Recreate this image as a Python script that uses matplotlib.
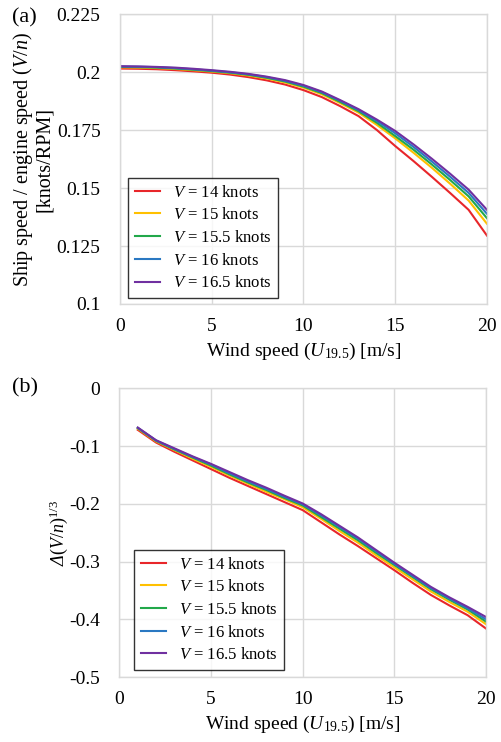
import numpy as np
import matplotlib
matplotlib.use("Agg")
import matplotlib.pyplot as plt

plt.rcParams['font.family'] = ['Liberation Serif', 'DejaVu Serif']
plt.rcParams['mathtext.fontset'] = 'custom'
plt.rcParams['mathtext.rm'] = 'Liberation Serif'
plt.rcParams['mathtext.it'] = 'Liberation Serif:italic'
plt.rcParams['axes.unicode_minus'] = False

# ---- data ----
speeds = ['14', '15', '15.5', '16', '16.5']
colors = ['#e8262a', '#ffc000', '#22a84a', '#2a78c2', '#7030a0']

wind_a = list(range(0, 21))
vn_14 = [0.2015, 0.2014, 0.2012, 0.2008, 0.2003, 0.1997, 0.1989, 0.1978, 0.1964, 0.1946, 0.1922,
         0.1892, 0.1853, 0.1810, 0.1750, 0.1681, 0.1616, 0.1548, 0.1478, 0.1406, 0.1295]
vn_15 = [0.2020, 0.2019, 0.2017, 0.2013, 0.2008, 0.2002, 0.1995, 0.1985, 0.1972, 0.1955, 0.1933,
         0.1904, 0.1866, 0.1825, 0.1772, 0.1714, 0.1652, 0.1587, 0.1518, 0.1446, 0.1346]
vn_155 = [0.2022, 0.2021, 0.2019, 0.2015, 0.2010, 0.2004, 0.1997, 0.1988, 0.1975, 0.1959, 0.1937,
          0.1909, 0.1871, 0.1831, 0.1781, 0.1724, 0.1665, 0.1601, 0.1534, 0.1464, 0.1370]
vn_16 = [0.2024, 0.2023, 0.2021, 0.2017, 0.2012, 0.2006, 0.1999, 0.1990, 0.1978, 0.1962, 0.1941,
         0.1913, 0.1876, 0.1836, 0.1789, 0.1736, 0.1677, 0.1614, 0.1548, 0.1479, 0.1389]
vn_165 = [0.2025, 0.2024, 0.2022, 0.2019, 0.2014, 0.2008, 0.2001, 0.1992, 0.1980, 0.1965, 0.1944,
          0.1916, 0.1879, 0.1840, 0.1795, 0.1746, 0.1688, 0.1626, 0.1561, 0.1493, 0.1406]

wind_b = list(range(1, 21))
d_14 = [-0.072, -0.094, -0.110, -0.125, -0.140, -0.155, -0.169, -0.183, -0.197, -0.211,
        -0.232, -0.253, -0.273, -0.294, -0.315, -0.337, -0.358, -0.376, -0.393, -0.416]
d_15 = [-0.070, -0.092, -0.107, -0.122, -0.136, -0.151, -0.165, -0.179, -0.192, -0.206,
        -0.226, -0.247, -0.267, -0.289, -0.310, -0.331, -0.352, -0.370, -0.387, -0.4085]
d_155 = [-0.069, -0.091, -0.106, -0.120, -0.134, -0.149, -0.163, -0.176, -0.190, -0.203,
         -0.223, -0.243, -0.263, -0.285, -0.306, -0.327, -0.348, -0.366, -0.383, -0.404]
d_16 = [-0.0685, -0.0905, -0.105, -0.119, -0.132, -0.147, -0.161, -0.174, -0.188, -0.201,
        -0.220, -0.240, -0.260, -0.282, -0.304, -0.325, -0.346, -0.364, -0.381, -0.400]
d_165 = [-0.068, -0.090, -0.104, -0.118, -0.131, -0.145, -0.159, -0.172, -0.186, -0.1995,
         -0.218, -0.238, -0.258, -0.280, -0.302, -0.323, -0.344, -0.362, -0.3785, -0.396]

xticks = [0, 5, 10, 15, 20]
yticks_a = [0.1, 0.125, 0.15, 0.175, 0.2, 0.225]
ylabels_a = ['0.1', '0.125', '0.15', '0.175', '0.2', '0.225']
yticks_b = [-0.5, -0.4, -0.3, -0.2, -0.1, 0]
ylabels_b = ['-0.5', '-0.4', '-0.3', '-0.2', '-0.1', '0']

fig = plt.figure(figsize=(5.02, 7.42), dpi=100)
ax1 = fig.add_axes([0.239, 0.5903, 0.731, 0.3908])
ax2 = fig.add_axes([0.238, 0.0876, 0.730, 0.3891])


def style(ax):
    ax.grid(True, color='#d9d9d9', lw=1.0)
    ax.set_axisbelow(True)
    for s in ax.spines.values():
        s.set_color('#d9d9d9')
        s.set_linewidth(1.0)
    ax.tick_params(length=0, labelsize=14)
    ax.tick_params(axis='y', pad=14)
    ax.tick_params(axis='x', pad=10)
    ax.set_xlim(0, 20)
    ax.set_xticks(xticks)
    ax.set_xticklabels([str(t) for t in xticks])
    ax.set_xlabel(r'Wind speed ($U_{19.5}$) [m/s]', fontsize=14, labelpad=4)


for ys, c, sp in zip([vn_14, vn_15, vn_155, vn_16, vn_165], colors, speeds):
    ax1.plot(wind_a, ys, color=c, lw=1.5, label=r'$V$ = ' + sp + ' knots')
style(ax1)
ax1.set_ylim(0.1, 0.225)
ax1.set_yticks(yticks_a)
ax1.set_yticklabels(ylabels_a)
ax1.set_ylabel('Ship speed / engine speed ($V$/$n$)\n[knots/RPM]', fontsize=14.5, linespacing=1.0)
ax1.yaxis.set_label_coords(-0.18, 0.5)

for ys, c, sp in zip([d_14, d_15, d_155, d_16, d_165], colors, speeds):
    ax2.plot(wind_b, ys, color=c, lw=1.5, label=r'$V$ = ' + sp + ' knots')
style(ax2)
ax2.set_ylim(-0.5, 0)
ax2.set_yticks(yticks_b)
ax2.set_yticklabels(ylabels_b)
ax2.set_ylabel(r'Δ$(V/n)^{1/3}$', fontsize=13, fontstyle='italic')
ax2.yaxis.set_label_coords(-0.135, 0.5)

for ax, pos in [(ax1, (128, 179, 273, 298)), (ax2, (134, 551, 279, 670))]:
    x0, y0, x1, y1 = pos
    W, H = 502.0, 742.0
    bx = x0 / W
    by = 1 - y1 / H
    leg = ax.legend(loc='lower left', bbox_to_anchor=(bx, by), bbox_transform=fig.transFigure,
                    fontsize=12, frameon=True, fancybox=False, handlelength=1.5,
                    handletextpad=0.8, labelspacing=0.4, borderpad=0.4, borderaxespad=0)
    leg.get_frame().set_edgecolor('black')
    leg.get_frame().set_linewidth(1.0)

fig.text(12 / 502, 1 - 18 / 742, '(a)', fontsize=16, va='center', ha='left')
fig.text(12 / 502, 1 - 388 / 742, '(b)', fontsize=16, va='center', ha='left')

fig.savefig('out.png', dpi=100)
